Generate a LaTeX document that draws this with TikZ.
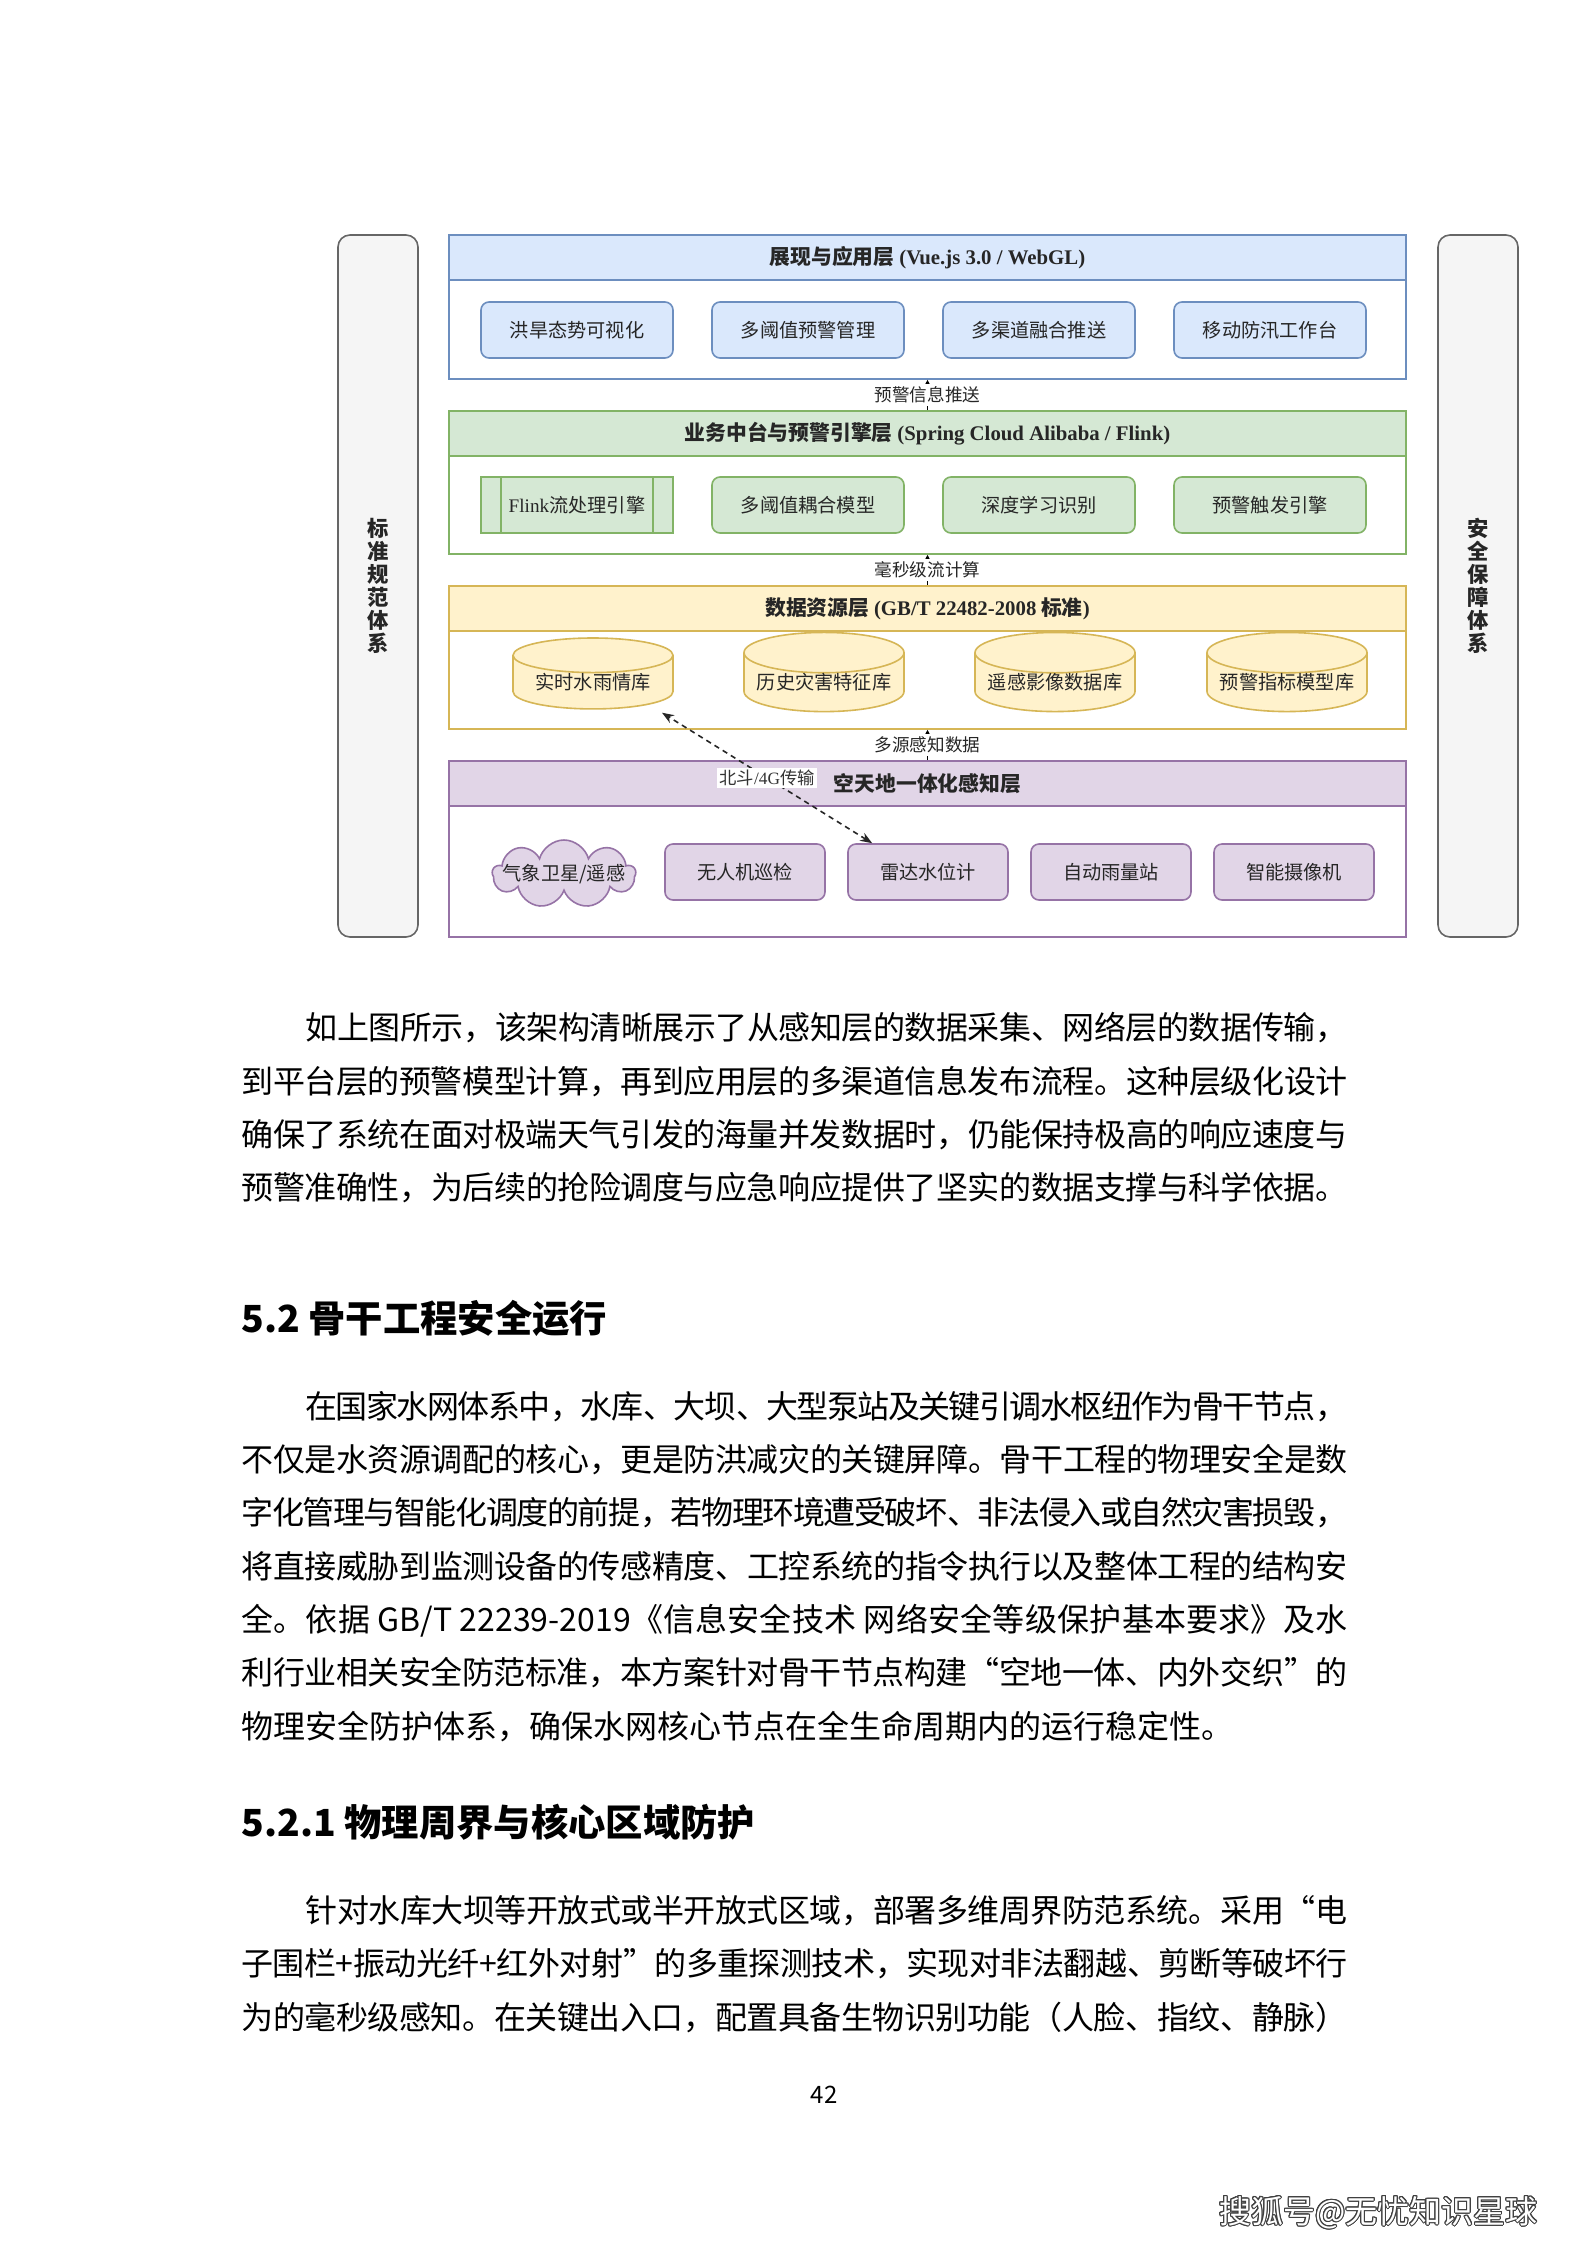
\documentclass[tikz,border=0pt]{standalone}
\usepackage{fontspec}
\setmainfont{Noto Sans CJK SC}
\newfontfamily\tnr{Liberation Serif}[BoldFont={Liberation Serif Bold}]
\usepackage[copies]{contour}
\usepackage{tikz}
\usetikzlibrary{positioning,arrows.meta,calc,shapes.geometric,shapes.symbols}
\XeTeXlinebreaklocale "zh"
\XeTeXlinebreakskip=0pt plus 2pt minus 1pt
\definecolor{appfill}{HTML}{DAE8FC}
\definecolor{appline}{HTML}{6C8EBF}
\definecolor{engfill}{HTML}{D5E8D4}
\definecolor{engline}{HTML}{82B366}
\definecolor{datfill}{HTML}{FFF2CC}
\definecolor{datline}{HTML}{D6B656}
\definecolor{senfill}{HTML}{E1D5E7}
\definecolor{senline}{HTML}{9673A6}
\definecolor{sidefill}{HTML}{F5F5F5}
\definecolor{sideline}{HTML}{666666}
\newcommand{\tnrb}[1]{{\tnr\bfseries #1}}
\tikzset{
  sidebar/.style={draw=sideline, fill=sidefill, line width=0.6pt, rounded corners=4.5pt,
    minimum width=30pt, minimum height=263.25pt, align=center, text=black!85,
    font=\bfseries\fontsize{8pt}{8.6pt}\selectfont},
  layer/.style={draw=#1line, fill=white, line width=0.6pt, minimum width=358.9pt, inner sep=0pt},
  head/.style={draw=#1line, fill=#1fill, line width=0.6pt, minimum width=358.9pt,
    minimum height=16.9pt, inner sep=0pt, text=black!85,
    font=\bfseries\fontsize{7.8pt}{9pt}\selectfont},
  card/.style={draw=#1line, fill=#1fill, line width=0.6pt, rounded corners=3pt,
    minimum width=72pt, minimum height=21pt, inner sep=0pt, text=black!85,
    font=\fontsize{7.2pt}{8pt}\selectfont},
  flinkbox/.style={sharp corners, path picture={
    \draw[engline, line width=0.6pt] ([xshift=7.5pt]path picture bounding box.north west)
      -- ([xshift=7.5pt]path picture bounding box.south west);
    \draw[engline, line width=0.6pt] ([xshift=-7.5pt]path picture bounding box.north east)
      -- ([xshift=-7.5pt]path picture bounding box.south east);}},
  store/.style={shape=cylinder, shape border rotate=90, aspect=0.3, draw=datline, fill=datfill,
    line width=0.6pt, minimum width=60pt, minimum height=26.6pt, inner sep=0pt,
    text=black!85, font=\fontsize{7.2pt}{8pt}\selectfont},
  cloudy/.style={cloud, cloud puffs=9, aspect=2.1, draw=senline, fill=senfill,
    line width=0.6pt, minimum width=53.6pt, minimum height=25.5pt, inner sep=0pt,
    text=black!85, font=\fontsize{7.2pt}{8pt}\selectfont},
  flow/.style={-{Triangle[length=2.4pt, width=2.4pt]}, line width=0.5pt, draw=black},
  flabel/.style={fill=white, inner sep=1pt, text=black!85, font=\fontsize{6.6pt}{7pt}\selectfont},
  linkflow/.style={{Stealth[length=4.5pt]}-{Stealth[length=4.5pt]}, line width=0.6pt,
    dash pattern=on 2pt off 1.6pt, draw=black!85},
  dlabel/.style={fill=white, inner sep=0.8pt, text=black!80, font=\fontsize{6.5pt}{7pt}\selectfont},
  para/.style={anchor=north west, inner sep=0pt, text width=414.75pt, align=justify,
    font=\fontsize{12pt}{20pt}\selectfont, execute at begin node={\tolerance=5000\relax}},
  heading/.style={anchor=west, inner sep=0pt, font=\bfseries\fontsize{14pt}{16pt}\selectfont},
}

\begin{document}
\begin{tikzpicture}[x=0.375pt, y=-0.375pt]
\useasboundingbox (0,0) rectangle (1587,2245);
% side columns
\node[sidebar] (stdbar) at (378,586) {标\\准\\规\\范\\体\\系};
\node[sidebar] (secbar) at (1478,586) {安\\全\\保\\障\\体\\系};
% layers, top to bottom
\node[layer=app, minimum height=54pt] (app) at (927.5,307) {};
\node[head=app] (apphead) at (927.5,257.5) {展现与应用层 \tnrb{(Vue.js 3.0 / WebGL)}};
\node[card=app] (vis) at (577,330) {洪旱态势可视化};
\node[card=app] (thmgr) at (808,330) {多阈值预警管理};
\node[card=app] (push) at (1039,330) {多渠道融合推送};
\node[card=app] (mobile) at (1270,330) {移动防汛工作台};

\node[layer=eng, minimum height=53.6pt] (eng) at (927.5,482.5) {};
\node[head=eng] (enghead) at (927.5,433.5) {业务中台与预警引擎层 \tnrb{(Spring Cloud Alibaba / Flink)}};
\node[card=eng, flinkbox] (flink) at (577,505) {{\tnr Flink}流处理引擎};
\node[card=eng] (coupling) at (808,505) {多阈值耦合模型};
\node[card=eng] (deep) at (1039,505) {深度学习识别};
\node[card=eng] (trigger) at (1270,505) {预警触发引擎};

\node[layer=dat, minimum height=53.6pt] (dat) at (927.5,657.5) {};
\node[head=dat] (dathead) at (927.5,608.5) {数据资源层 \tnrb{(GB/T 22482-2008} 标准\tnrb{)}};
\node[store] (rain) at (593,682.5) {实时水雨情库};
\node[store] (history) at (824,682.5) {历史灾害特征库};
\node[store] (image) at (1055,682.5) {遥感影像数据库};
\node[store] (index) at (1287,682.5) {预警指标模型库};

\node[layer=sen, minimum height=66pt] (sen) at (927.5,849) {};
\node[head=sen] (senhead) at (927.5,783.5) {空天地一体化感知层};
\node[cloudy] (sat) at (564,874) {\makebox[0pt]{气象卫星/遥感}};
\node[card=sen, minimum width=60pt] (uav) at (745,872) {无人机巡检};
\node[card=sen, minimum width=60pt] (radar) at (928,872) {雷达水位计};
\node[card=sen, minimum width=60pt] (gauge) at (1111,872) {自动雨量站};
\node[card=sen, minimum width=60pt] (camera) at (1294,872) {智能摄像机};

\draw[flow] (enghead.north) -- (app.south) node[flabel, midway] (pushlbl) {预警信息推送};
\draw[flow] (dathead.north) -- (eng.south) node[flabel, midway] (streamlbl) {毫秒级流计算};
\draw[flow] (senhead.north) -- (dat.south) node[flabel, midway] (senselbl) {多源感知数据};
\draw[linkflow] ($(radar.north west)+(25,0)$) -- ($(rain.south)+(69,3)$)
  node[dlabel, midway] (linklbl) {北斗{\tnr /4G}传输};

% page text
\node[para] (para1) at (241,1012) {\parfillskip=0pt\hspace*{24pt}如上图所示，该架构清晰展示了从感知层的数据采集、网络层的数据传输，\linebreak
到平台层的预警模型计算，再到应用层的多渠道信息发布流程。这种层级化设计\linebreak
确保了系统在面对极端天气引发的海量并发数据时，仍能保持极高的响应速度与\linebreak
预警准确性，为后续的抢险调度与应急响应提供了坚实的数据支撑与科学依据。\par};
\node[heading] (sec52) at (241,1318) {5.2 骨干工程安全运行};
\node[para] (para2) at (241,1390.5) {\hspace*{24pt}在国家水网体系中，水库、大坝、大型泵站及关键引调水枢纽作为骨干节点，\linebreak
不仅是水资源调配的核心，更是防洪减灾的关键屏障。骨干工程的物理安全是数\linebreak
字化管理与智能化调度的前提，若物理环境遭受破坏、非法侵入或自然灾害损毁，\linebreak
将直接威胁到监测设备的传感精度、工控系统的指令执行以及整体工程的结构安\linebreak
全。依据 GB/T 22239-2019《信息安全技术 网络安全等级保护基本要求》及水\linebreak
利行业相关安全防范标准，本方案针对骨干节点构建“空地一体、内外交织”的\linebreak
物理安全防护体系，确保水网核心节点在全生命周期内的运行稳定性。\par};
\node[heading] (sec521) at (241,1822) {5.2.1 物理周界与核心区域防护};
\node[para] (para3) at (241,1895) {\parfillskip=0pt\hspace*{24pt}针对水库大坝等开放式或半开放式区域，部署多维周界防范系统。采用“电\linebreak
子围栏+振动光纤+红外对射”的多重探测技术，实现对非法翻越、剪断等破坏行\linebreak
为的毫秒级感知。在关键出入口，配置具备生物识别功能（人脸、指纹、静脉）\par};
\node[font=\fontsize{9pt}{10pt}\selectfont] (pageno) at (824,2095) {42};
\node[anchor=east, font=\fontsize{12pt}{14pt}\selectfont] (mark) at (1547,2213)
  {\contourlength{0.35pt}\contour{black!75}{\textcolor{white}{搜狐号@无忧知识星球}}};
\end{tikzpicture}
\end{document}
